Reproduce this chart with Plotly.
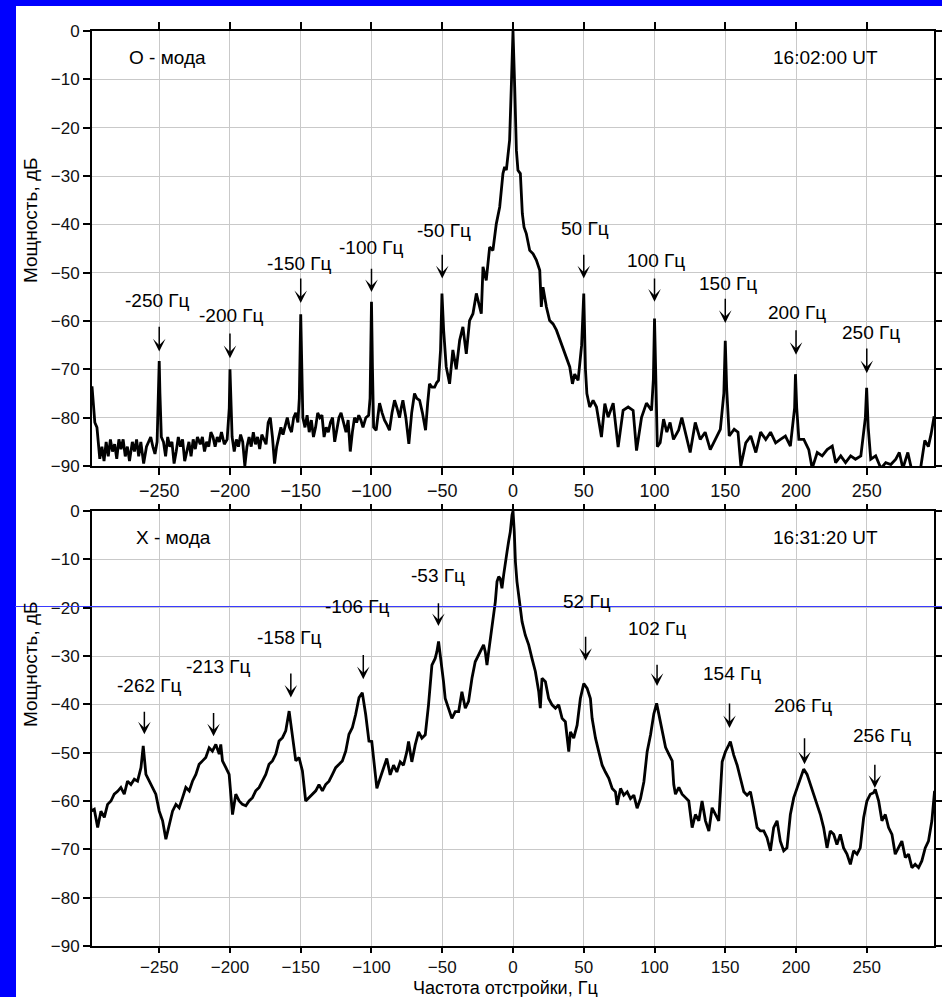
import plotly.graph_objects as go
from plotly.subplots import make_subplots

# ---- O-mode spectrum, 16:02:00 UT: (offset frequency, Hz ; power, dB) ----
o_mode_spectrum = [
    (-297.5, -73.5), (-296.5, -77), (-295.5, -81), (-294, -82), (-293, -86), (-292, -88.5),
    (-290.5, -86), (-289, -89), (-287.5, -85), (-286, -88), (-284.5, -84.5), (-283, -87),
    (-281.5, -85.5), (-280, -88.5), (-278.5, -84.5), (-277, -86.5), (-275.5, -84.5), (-274, -88),
    (-272.5, -86), (-271, -89), (-269, -85), (-267.5, -87), (-266, -84.5), (-264.5, -88),
    (-263, -85), (-261, -89.5), (-259, -86), (-257.5, -85), (-256, -84), (-254.5, -86),
    (-253, -87.5), (-251.5, -85), (-250.5, -75), (-250, -68.3), (-249.5, -75), (-248.5, -84),
    (-247, -85), (-245.5, -88), (-244, -84), (-242.5, -86), (-241, -85), (-239.5, -89.5),
    (-238, -87), (-236.5, -84), (-235, -86), (-233.5, -84.5), (-232, -89), (-230.5, -87),
    (-229, -85), (-227.5, -88), (-226, -84.5), (-224.5, -86.5), (-223, -84), (-221, -85.5),
    (-219.5, -84), (-218, -87), (-216.5, -85), (-215, -86), (-213.5, -83), (-212, -84),
    (-210.5, -86), (-209, -84), (-207.5, -85), (-206, -83), (-204, -85.5), (-202, -84.5),
    (-200.5, -78), (-200, -70), (-199.5, -77), (-198.5, -84), (-197, -87), (-195.5, -84.5),
    (-194, -86), (-192.5, -83.5), (-191, -85), (-189.5, -90), (-188, -86), (-186.5, -84),
    (-185, -86), (-183.5, -83), (-182, -85.5), (-180.5, -84), (-179, -86.5), (-177.5, -83.5),
    (-176, -84.5), (-174.5, -85.5), (-173, -81), (-171.5, -80), (-170, -84), (-168.5, -89.5),
    (-167, -86), (-165.5, -84), (-164, -82), (-162.5, -83.5), (-161, -81.5), (-159.5, -80),
    (-158, -82), (-156.5, -83), (-155, -80), (-153.5, -79), (-152, -81), (-151, -76),
    (-150, -58.6), (-149.3, -70), (-148.5, -80), (-147, -82), (-145.5, -79.5), (-144, -83),
    (-142.5, -80.5), (-141, -84), (-139.5, -82), (-138, -79), (-136.5, -80), (-135, -79.5),
    (-133.5, -84), (-132, -82), (-130.5, -83), (-129, -81), (-127.5, -80), (-126, -85),
    (-124.5, -82), (-123, -80), (-121.5, -79), (-120, -81), (-118, -83), (-116.5, -80.5),
    (-115, -87), (-113.5, -83), (-112, -80), (-110.5, -81), (-109, -79.5), (-107.5, -80.5),
    (-106, -82), (-104, -80), (-102, -79.5), (-101, -76), (-100, -56), (-99.3, -70),
    (-98.5, -82), (-96.7, -82.6), (-95.5, -79), (-94.3, -77), (-92.5, -79), (-90.8, -80.5),
    (-89, -81.5), (-87.3, -82.6), (-85.5, -79), (-83.7, -76.4), (-82, -78), (-80.2, -80),
    (-79, -78), (-77.8, -76.4), (-75.7, -80), (-73.6, -85.4), (-71.6, -79), (-69.6, -75),
    (-68, -76), (-66, -76.4), (-64, -79), (-61.8, -82.6), (-60.3, -77), (-59, -73),
    (-57.2, -73.7), (-55.4, -73.7), (-54, -72.8), (-52.6, -72.3), (-51.2, -66), (-50.2, -54.3),
    (-49, -62), (-47.2, -69.5), (-44.8, -73), (-42.5, -66), (-40.1, -70), (-37.7, -64),
    (-35.4, -61.2), (-33, -66.8), (-30.7, -59.9), (-28.3, -58.5), (-25.9, -54.3), (-22.4, -58.5),
    (-21.2, -48.8), (-18.9, -51.6), (-16.5, -44.7), (-14.2, -45.4), (-11.8, -39.9), (-9.4, -36.4),
    (-7.1, -29.5), (-5.9, -28.1), (-4.7, -28.8), (-3.5, -24.7), (-2.4, -22.6), (-1.2, -11.6),
    (0, 0), (1.2, -11.6), (2.4, -24.7), (3.5, -28.8), (5.2, -29.5), (6.6, -37.8),
    (7.8, -40.6), (9.4, -41.9), (11.8, -45.4), (14.2, -46.1), (16.5, -47.4), (18.9, -49.5),
    (20, -57.1), (21.2, -53), (23.6, -57.1), (25.9, -59.9), (28.3, -60.6), (30.7, -61.9),
    (34.2, -64.7), (37.7, -67.4), (40.1, -69.5), (42, -73), (43.6, -71), (46, -72.3),
    (48.5, -65), (50, -54.3), (51.2, -70), (52.2, -75), (54.2, -77.8), (56.6, -76.4),
    (59, -77.8), (62.5, -84), (64.9, -77.1), (67.2, -79.9), (70.8, -77), (74.3, -86.1),
    (77.8, -78.5), (81.4, -77.8), (84.9, -78.5), (87.3, -86.8), (90.8, -80), (94.3, -77),
    (97.9, -78.5), (99.2, -72), (100, -59.5), (100.8, -70), (102, -86), (104, -85.2),
    (106.4, -80.3), (108.7, -83), (111, -81), (113.4, -84.5), (117, -82.6), (119.3, -80),
    (122.9, -84.5), (125.2, -87.2), (128.8, -81), (132.3, -84.5), (135.8, -83), (139.4, -86.6),
    (143, -84.5), (146.5, -82.4), (149, -75), (150, -64.1), (151, -74), (152.8, -83.8),
    (156.3, -82.4), (159, -83), (161, -90), (164.5, -85.2), (168, -83.8), (171.6, -87.2),
    (175, -83), (178.6, -84.5), (182, -83), (185.6, -85.2), (189, -84.5), (192.5, -83.8),
    (196, -85.9), (199, -78), (199.6, -71), (200.5, -78), (202, -84.5), (205.5, -84.5),
    (209, -86.6), (211.4, -90.5), (215, -87.2), (218.5, -87.9), (222, -86.6), (225.6, -85.9),
    (228, -89.3), (231.6, -87.9), (235, -89.3), (238.6, -87.9), (242, -88.6), (245.8, -87.9),
    (249, -80), (249.9, -73.8), (251, -82), (252.8, -88.6), (256.3, -87.9), (260, -90.5),
    (263.4, -89.3), (267, -89.7), (270.5, -88.6), (273, -87.2), (275.5, -90.5), (279, -87.2),
    (281.5, -90.5), (284, -90.5), (288, -90.5), (291, -84.7), (293.5, -86), (295.5, -83.3),
    (297.6, -79.7),
]

# ---- X-mode spectrum, 16:31:20 UT: (offset frequency, Hz ; power, dB) ----
x_mode_spectrum = [
    (-299.4, -55.2), (-298.2, -62.1), (-295.9, -61.7), (-293.5, -65.5), (-291.2, -62.1), (-288.8, -63.4),
    (-286.5, -60.7), (-284.1, -60), (-281.8, -58.6), (-279.4, -58), (-277.1, -57.2), (-274.7, -58.6),
    (-272.4, -55.9), (-270, -56.6), (-267.6, -55.5), (-265.3, -55.9), (-262.9, -53.1), (-261.3, -48.6),
    (-259.4, -54.5), (-257.1, -55.9), (-254.7, -57.2), (-252.4, -58.6), (-250, -62.1), (-247.6, -64.1),
    (-245.3, -67.9), (-242.9, -64.8), (-240.6, -62.1), (-238.2, -60.7), (-235.9, -61.4), (-233.5, -59.3),
    (-231.2, -57.2), (-228.8, -57.9), (-226.5, -55.9), (-224.1, -54.5), (-221.8, -52.4), (-219.4, -51.7),
    (-217.1, -51), (-214.7, -49), (-212.4, -49.7), (-210, -48.3), (-207.6, -50.3), (-206.5, -48.3),
    (-205.3, -51.7), (-202.9, -53.1), (-200.6, -54.5), (-198.2, -62.8), (-195.9, -58.6), (-193.5, -60),
    (-191.2, -60.7), (-188.8, -61), (-186.5, -60), (-184.1, -59.3), (-181.8, -57.9), (-179.4, -57.2),
    (-177.1, -55.9), (-174.7, -54.5), (-172.4, -52.4), (-170, -51.7), (-167.6, -50.3), (-165.3, -47.6),
    (-162.9, -46.9), (-160.6, -45.5), (-158.2, -41.4), (-155.9, -46.9), (-153.5, -51.7), (-151.2, -51),
    (-148.8, -53.8), (-146.5, -60), (-144.1, -59.3), (-141.8, -58.6), (-139.4, -57.9), (-137.1, -56.6),
    (-134.7, -57.9), (-132.4, -56.6), (-130, -55.9), (-127.6, -54.5), (-125.3, -53.1), (-122.9, -52.4),
    (-120.6, -51.7), (-118.2, -49.7), (-115.9, -46.2), (-113.5, -44.8), (-111.2, -42.1), (-108.8, -38.6),
    (-106.5, -37.6), (-104.1, -42.1), (-101.8, -47.6), (-99.8, -47.7), (-96.2, -57.4), (-93.9, -55.3),
    (-91.5, -53.3), (-89.2, -51.2), (-86.8, -54.6), (-84.4, -52.6), (-82.1, -54), (-79.7, -51.9),
    (-77.4, -52.6), (-75, -49.8), (-73.8, -47.7), (-71.5, -51.9), (-69.1, -48.4), (-66.7, -45.7),
    (-64.4, -47), (-62, -46.3), (-59.7, -40.1), (-58.5, -36), (-57.3, -31.9), (-55, -30.5),
    (-53.8, -29.1), (-52.6, -27), (-51.4, -29.8), (-50.2, -31.9), (-49.1, -35.3), (-47.9, -38.8),
    (-45.5, -40.8), (-43.2, -42.9), (-40.8, -41.5), (-38.4, -41.5), (-36.1, -37.4), (-33.7, -40.8),
    (-31.4, -39.4), (-29, -34.6), (-26.7, -31.2), (-24.3, -29.8), (-21.9, -28.4), (-20.8, -27.7),
    (-19.6, -29.1), (-18.4, -31.9), (-17.2, -29.1), (-16, -26.3), (-14.9, -23.6), (-13.7, -20.8),
    (-12.5, -18.8), (-11.3, -14.6), (-10.1, -13.6), (-9, -14), (-7.8, -16), (-6.6, -13.2),
    (-5.4, -11.2), (-4.2, -8.4), (-3.1, -6.3), (-1.9, -4.3), (-0.7, -0.8), (0, 0),
    (0.9, -4.3), (1.7, -10.5), (2.8, -14.6), (4, -17.4), (5.2, -19.4), (6.4, -22.9),
    (8.7, -25.7), (11.1, -27.7), (13.4, -30.5), (15.8, -33.2), (18.2, -37.4), (19.3, -40.8),
    (20.5, -34.6), (22.9, -35.3), (25.2, -38.8), (27.6, -40.1), (30, -40.8), (32.3, -40.1),
    (34.7, -42.9), (37, -43.6), (39.4, -49.8), (40.6, -45.7), (42.9, -47), (45.3, -44.3),
    (47.6, -38.8), (50, -35.7), (52.4, -36.7), (54.7, -38.8), (55.9, -42.9), (58.3, -47),
    (60.6, -49.8), (63, -52.6), (65.3, -54), (67.7, -55.3), (70.1, -57.4), (72.4, -58.1),
    (73.6, -60.8), (76, -57.4), (78.3, -58.8), (80.7, -58.1), (83, -59.5), (85.4, -58.8),
    (87.7, -61.5), (90.1, -59.5), (92.5, -56), (94.8, -49.8), (97.2, -46.3), (99.5, -42),
    (101.5, -39.8), (103.1, -42.1), (105.4, -44.8), (107.8, -48.9), (110.1, -50.3), (112.5, -51.7),
    (113.6, -56.6), (114.8, -58.6), (117.2, -57.2), (119.5, -58.6), (121.9, -59.3), (124.2, -60),
    (126.6, -65.5), (128.9, -62.8), (131.3, -64.1), (133.6, -60), (136, -64.1), (138.4, -66.2),
    (140.7, -61.4), (143.1, -62.8), (145.4, -64.1), (147.8, -51.9), (150.1, -49.8), (152.5, -48.4),
    (153.6, -47.7), (156, -50.5), (158.4, -52.6), (160.7, -55.3), (163.1, -58.1), (165.4, -58.8),
    (167.8, -58.1), (170.1, -61.5), (172.5, -65.5), (174.8, -66.2), (177.2, -66.2), (179.5, -67.6),
    (181.9, -70.3), (184.2, -65.5), (186.6, -64.1), (188.9, -68.3), (191.3, -70.3), (193.6, -69.7),
    (196, -62.8), (198.4, -59.3), (200.7, -57.2), (203.1, -55.2), (205.4, -53.4), (207.8, -54.5),
    (210.1, -56.6), (212.5, -58.6), (214.8, -60.7), (217.2, -62.8), (219.5, -65.5), (221.9, -69.7),
    (224.2, -66.2), (226.6, -66.9), (228.9, -69), (231.3, -66.9), (233.6, -69.7), (236, -71),
    (238.4, -73.1), (240.7, -70.3), (243.1, -71), (245.4, -69.7), (247.8, -63.4), (250.1, -60),
    (252.5, -58.6), (254.8, -58.3), (256, -57.6), (258.4, -60), (260.7, -64.1), (263.1, -62.8),
    (265.4, -65.5), (267.8, -66.9), (270.1, -71), (272.5, -69.7), (274.8, -68.3), (277.2, -71.7),
    (279.5, -71), (281.9, -73.8), (284.2, -73.1), (286.6, -73.8), (288.9, -72.4), (291.3, -69.7),
    (293.6, -68.3), (296, -64.1), (297.9, -57.9),
]

o_freq = [f for f, _ in o_mode_spectrum]
o_power = [p for _, p in o_mode_spectrum]
x_freq = [f for f, _ in x_mode_spectrum]
x_power = [p for _, p in x_mode_spectrum]

# ---- peak markers: label text, label position, arrow (tail -> head) ----
o_peak_labels = ["-250 Гц", "-200 Гц", "-150 Гц", "-100 Гц", "-50 Гц",
                 "50 Гц", "100 Гц", "150 Гц", "200 Гц", "250 Гц"]
o_label_freq = [-251, -199, -151, -100, -49, 51, 101, 152, 201, 253]
o_label_db = [-55.8, -58.9, -48.2, -44.7, -41.3, -40.9, -47.5, -52.3, -58.2, -62.3]
o_arrow_freq = [-250, -200, -150, -100, -50, 50, 100, 150, 200, 250]
o_arrow_tail = [-60.9, -62.3, -50.9, -48.9, -46, -46, -50.9, -55.1, -61.6, -65.4]
o_arrow_head = [-66.3, -67.7, -56.3, -54, -51.2, -51.2, -56, -60.4, -67, -70.8]

x_peak_labels = ["-262 Гц", "-213 Гц", "-158 Гц", "-106 Гц", "-53 Гц",
                 "52 Гц", "102 Гц", "154 Гц", "206 Гц", "256 Гц"]
x_label_freq = [-257, -208.3, -157.7, -110, -52.7, 52.4, 101.5, 154.6, 205.2, 260.4]
x_label_db = [-36, -32.1, -26.2, -19.8, -13.3, -18.8, -24.3, -33.6, -40.2, -46.4]
x_arrow_freq = [-260.5, -211.6, -157, -105.8, -52.7, 51.3, 101.8, 153, 206, 255.7]
x_arrow_tail = [-41.2, -41.5, -33.3, -29.5, -18.8, -25.7, -31.5, -39.5, -46.7, -52.2]
x_arrow_head = [-46.2, -46.6, -38.6, -34.8, -23.8, -31, -36.2, -44.9, -52.4, -57.3]

freq_ticks = [-250, -200, -150, -100, -50, 0, 50, 100, 150, 200, 250]
power_ticks = [0, -10, -20, -30, -40, -50, -60, -70, -80, -90]

FONT = "Liberation Sans, Arial, sans-serif"
W, H = 942, 997
ML, MR, MT, MB = 92, 8, 31, 51
PW, PH = W - ML - MR, H - MT - MB


def px_x(px):
    return (px - ML) / PW


def px_y(py):
    return (H - MB - py) / PH


fig = make_subplots(rows=2, cols=1, vertical_spacing=45 / PH)

fig.add_trace(go.Scatter(x=o_freq, y=o_power, mode="lines",
                         line=dict(color="black", width=2.8), showlegend=False),
              row=1, col=1)
fig.add_trace(go.Scatter(x=x_freq, y=x_power, mode="lines",
                         line=dict(color="black", width=2.8), showlegend=False),
              row=2, col=1)

axis_common = dict(
    showline=True, linecolor="black", linewidth=2, mirror="ticks",
    ticks="outside", tickwidth=1.5, tickcolor="black",
    showgrid=True, gridcolor="#c9c9c9", gridwidth=1.2, zeroline=False,
    automargin=False,
)
for r in (1, 2):
    fig.update_xaxes(range=[-297.5, 297.5], tickvals=freq_ticks, row=r, col=1,
                     ticklen=7 if r == 1 else 5,
                     tickfont=dict(family=FONT, size=18 if r == 1 else 17, color="#111"),
                     **axis_common)
    fig.update_yaxes(range=[-90, 0], tickvals=power_ticks, row=r, col=1, ticklen=7,
                     tickfont=dict(family=FONT, size=17, color="#111"), **axis_common)

annotations = []


def add_peaks(labels, lf, ldb, af, tail, head, xr, yr):
    for t, fx, fy, ax_, t0, h0 in zip(labels, lf, ldb, af, tail, head):
        annotations.append(dict(x=fx, y=fy, xref=xr, yref=yr, text=t, showarrow=False,
                                xanchor="center", yanchor="middle",
                                font=dict(family=FONT, size=19, color="black")))
        annotations.append(dict(x=ax_, y=h0, ax=ax_, ay=t0, xref=xr, yref=yr,
                                axref=xr, ayref=yr, text="", showarrow=True,
                                arrowhead=3, arrowsize=1.4, arrowwidth=1.5,
                                arrowcolor="black", standoff=0, startstandoff=0))


add_peaks(o_peak_labels, o_label_freq, o_label_db, o_arrow_freq, o_arrow_tail, o_arrow_head, "x", "y")
add_peaks(x_peak_labels, x_label_freq, x_label_db, x_arrow_freq, x_arrow_tail, x_arrow_head, "x2", "y2")

caption_font = dict(family=FONT, size=19, color="black")
annotations += [
    dict(x=-272.8, y=-5.4, xref="x", yref="y", text="О - мода", showarrow=False,
         xanchor="left", yanchor="middle", font=caption_font),
    dict(x=259.5, y=-5.5, xref="x", yref="y", text="16:02:00 UT", showarrow=False,
         xanchor="right", yanchor="middle", font=caption_font),
    dict(x=-268, y=-5.5, xref="x2", yref="y2", text="Х - мода", showarrow=False,
         xanchor="left", yanchor="middle", font=caption_font),
    dict(x=259.5, y=-5.5, xref="x2", yref="y2", text="16:31:20 UT", showarrow=False,
         xanchor="right", yanchor="middle", font=caption_font),
]

# axis titles
title_font = dict(family=FONT, size=19, color="black")
annotations += [
    dict(x=px_x(30), y=px_y(220), xref="paper", yref="paper", text="Мощность, дБ",
         textangle=-90, showarrow=False, xanchor="center", yanchor="middle", font=title_font),
    dict(x=px_x(30), y=px_y(664), xref="paper", yref="paper", text="Мощность, дБ",
         textangle=-90, showarrow=False, xanchor="center", yanchor="middle", font=title_font),
    dict(x=px_x(505), y=px_y(988), xref="paper", yref="paper", text="Частота отстройки, Гц",
         showarrow=False, xanchor="center", yanchor="middle",
         font=dict(family=FONT, size=18, color="black")),
]

shapes = [
    # white sheet over the blue page
    dict(type="rect", xref="paper", yref="paper", layer="below",
         x0=px_x(16), x1=px_x(W + 2), y0=px_y(H + 2), y1=px_y(6),
         fillcolor="white", line=dict(width=0)),
    # thin blue rule across the lower panel
    dict(type="line", xref="paper", yref="paper", layer="above",
         x0=px_x(15), x1=px_x(W + 2), y0=px_y(606.5), y1=px_y(606.5),
         line=dict(color="#3a3aff", width=1.2)),
]

fig.update_layout(
    width=W, height=H, autosize=False,
    margin=dict(l=ML, r=MR, t=MT, b=MB, pad=0, autoexpand=False),
    paper_bgcolor="#0000ff", plot_bgcolor="white",
    annotations=annotations, shapes=shapes,
    showlegend=False,
)

fig.write_html("out.html")
